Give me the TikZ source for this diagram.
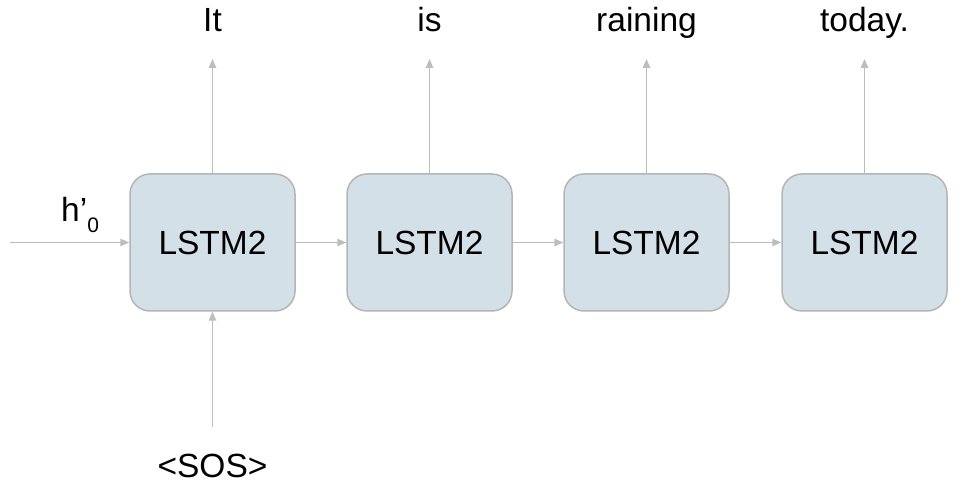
\documentclass[tikz,border=0pt]{standalone}
\usepackage{fontspec}
\setmainfont{Liberation Sans}
\usetikzlibrary{arrows.meta}
\definecolor{boxfill}{HTML}{D3E0E8}
\definecolor{boxline}{HTML}{B5B5B5}
\definecolor{arrowgray}{HTML}{BDBDBD}
\tikzset{
  lstm/.style={draw=boxline, fill=boxfill, line width=1.5pt, rounded corners=20pt,
    minimum width=165pt, minimum height=137pt, inner sep=0pt,
    font=\fontsize{33.5}{36}\selectfont},
  wordlabel/.style={anchor=base, inner sep=0pt, font=\fontsize{33.5}{36}\selectfont},
  conn/.style={draw=arrowgray, line width=1.5pt, -{Triangle[length=9pt,width=7.5pt]}}
}
\begin{document}
\begin{tikzpicture}[x=1pt,y=-1pt]
\useasboundingbox (0,0) rectangle (972,502);
% boxes
\node[lstm] (b1) at (212.5,242.5) {LSTM2};
\node[lstm] (b2) at (429.5,242.5) {LSTM2};
\node[lstm] (b3) at (646.5,242.5) {LSTM2};
\node[lstm] (b4) at (864.5,242.5) {LSTM2};
% output labels
\node[wordlabel] (w1) at (212.5,32) {It};
\node[wordlabel] (w2) at (429.5,32) {is};
\node[wordlabel] (w3) at (646.5,32) {raining};
\node[wordlabel] (w4) at (864.5,32) {today.};
\coordinate (t1) at (212.5,59);
\coordinate (t2) at (429.5,59);
\coordinate (t3) at (646.5,59);
\coordinate (t4) at (864.5,59);
% input label
\node[wordlabel] (sos) at (212.5,477) {<SOS>};
\coordinate (s0) at (212.5,427);
% initial state
\coordinate (h0) at (10,242.5);
\node[anchor=base west, inner sep=0pt, font=\fontsize{33.5}{36}\selectfont] (hlab) at (61,222) {h’\raisebox{-11pt}{\fontsize{21}{21}\selectfont 0}};
% connectors
\draw[conn] (h0) -- (b1.west);
\draw[conn] (b1.east) -- (b2.west);
\draw[conn] (b2.east) -- (b3.west);
\draw[conn] (b3.east) -- (b4.west);
\draw[conn] (b1.north) -- (t1);
\draw[conn] (b2.north) -- (t2);
\draw[conn] (b3.north) -- (t3);
\draw[conn] (b4.north) -- (t4);
\draw[conn] (s0) -- (b1.south);
\end{tikzpicture}
\end{document}
